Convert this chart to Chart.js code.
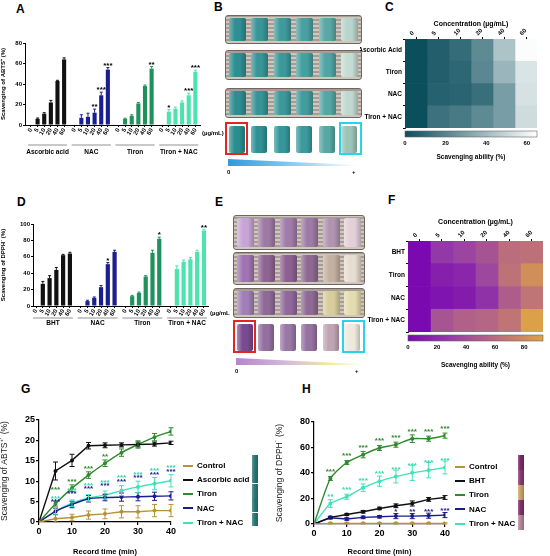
<!DOCTYPE html>
<html>
<head>
<meta charset="utf-8">
<title>ABTS / DPPH scavenging</title>
<script src="https://cdn.jsdelivr.net/npm/chart.js@4.4.1/dist/chart.umd.min.js"></script>
<style>
  body { margin: 0; width: 550px; height: 556px; position: relative; overflow: hidden; background: #fff; font-family: 'Liberation Sans', Arial, sans-serif; }
  .abs { position: absolute; }
  .letter { position: absolute; font-size: 12px; line-height: 12px; font-weight: bold; }
  .legend { position: absolute; font-size: 8px; font-weight: bold; }
  .legend div { position: absolute; white-space: nowrap; line-height: 10px; }
  .legend span { display: inline-block; width: 10px; height: 2px; vertical-align: middle; margin-right: 4px; }
  .small { position: absolute; font-size: 6px; font-weight: bold; line-height: 6px; }
</style>
</head>
<body>
<div class="letter" style="left:16px;top:3px">A</div>
<div class="letter" style="left:214px;top:1px">B</div>
<div class="letter" style="left:385px;top:1px">C</div>
<div class="letter" style="left:17px;top:196px">D</div>
<div class="letter" style="left:215px;top:196px">E</div>
<div class="letter" style="left:388px;top:194px">F</div>
<div class="letter" style="left:21px;top:383px">G</div>
<div class="letter" style="left:302px;top:383px">H</div>

<canvas id="barA" class="abs" width="228" height="140" style="left:0;top:20px"></canvas>
<canvas id="barD" class="abs" width="230" height="140" style="left:0;top:200px"></canvas>
<canvas id="heatC" class="abs" width="190" height="150" style="left:360px;top:12px"></canvas>
<canvas id="heatF" class="abs" width="190" height="160" style="left:360px;top:210px"></canvas>
<canvas id="lineG" class="abs" width="275" height="158" style="left:0;top:398px"></canvas>
<canvas id="lineH" class="abs" width="275" height="158" style="left:275px;top:398px"></canvas>

<script>
// ---- data: concentration bars (A, D) ----
const concLabels = ['0', '5', '10', '20', '40', '60'];

const abtsGroups = ['Ascorbic acid', 'NAC', 'Tiron', 'Tiron + NAC'];
const abtsAscorbic = [0, 6, 11, 22, 43, 64];
const abtsNac = [0, 7, 8, 12, 29, 54];
const abtsTiron = [0, 6, 9, 21, 38, 55];
const abtsTironNac = [0, 13, 16, 22, 29, 52];
const abtsAscorbicErr = [0, 0.8, 1, 2, 0.6, 1.5];
const abtsNacErr = [0, 3, 3.5, 3.5, 3, 2];
const abtsTironErr = [0, 0.6, 1, 1, 1, 2];
const abtsTironNacErr = [0, 2, 1.5, 1.5, 2, 1.5];
const abtsAscorbicStars = ['', '', '', '', '', ''];
const abtsNacStars = ['', '', '', '**', '***', '***'];
const abtsTironStars = ['', '', '', '', '', '**'];
const abtsTironNacStars = ['', '*', '', '', '***', '***'];

const dpphGroups = ['BHT', 'NAC', 'Tiron', 'Tiron + NAC'];
const dpphBht = [0, 27, 34, 44, 62, 64];
const dpphNac = [0, 6, 10, 23, 51, 66];
const dpphTiron = [0, 12, 16, 36, 65, 82];
const dpphTironNac = [0, 45, 54, 57, 66, 92];
const dpphBhtErr = [0, 3, 3, 3, 1, 1.5];
const dpphNacErr = [0, 1, 1, 2, 2, 2];
const dpphTironErr = [0, 1, 1, 1, 3, 2];
const dpphTironNacErr = [0, 4, 2, 2, 2, 1.5];
const dpphBhtStars = ['', '', '', '', '', ''];
const dpphNacStars = ['', '', '', '', '*', ''];
const dpphTironStars = ['', '', '', '', '', '*'];
const dpphTironNacStars = ['', '', '', '', '', '**'];

// ---- data: heatmaps (C, F) ----
const heatRowsC = ['Ascorbic Acid', 'Tiron', 'NAC', 'Tiron + NAC'];
const heatRowsF = ['BHT', 'Tiron', 'NAC', 'Tiron + NAC'];
const colorBarTicks = [0, 20, 40, 60, 80];

// ---- data: kinetics (G, H) ----
const timePoints = [0, 5, 10, 15, 20, 25, 30, 35, 40];
const abtsControlTime = [0, 0.8, 1.1, 1.7, 2.0, 2.5, 2.5, 2.8, 2.8];
const abtsAscorbicTime = [0, 12.5, 15.1, 18.7, 18.8, 18.9, 19.0, 19.1, 19.4];
const abtsTironTime = [0, 4.5, 8.3, 11.5, 14.4, 17.0, 19.0, 20.8, 22.2];
const abtsNacTime = [0, 2.6, 4.3, 5.7, 6.0, 6.1, 6.2, 6.3, 6.4];
const abtsTironNacTime = [0, 2.7, 4.6, 5.9, 6.6, 7.7, 8.6, 9.4, 10.1];
const abtsControlTimeErr = [0, 1, 0.8, 1, 1.2, 1.5, 1.5, 1.5, 1.5];
const abtsAscorbicTimeErr = [0, 2.2, 1.5, 0.8, 0.6, 0.5, 0.6, 0.5, 0.4];
const abtsTironTimeErr = [0, 0.6, 0.8, 0.8, 0.8, 0.9, 0.9, 0.9, 0.9];
const abtsNacTimeErr = [0, 0.8, 0.8, 0.8, 0.8, 1, 1, 1, 1];
const abtsTironNacTimeErr = [0, 0.8, 0.8, 0.8, 1, 1.2, 1.4, 1.5, 1.5];
const abtsTironTimeStars = ['', '***', '***', '***', '**', '', '', '', ''];
const abtsTironNacTimeStars = ['', '***', '***', '***', '***', '***', '***', '***', '***'];
const abtsNacTimeStars = ['', '***', '***', '***', '***', '***', '***', '***', '***'];

const dpphControlTime = [0, 0.5, 0.5, 0.5, 0.5, 0.5, 0.5, 0.5, 0.5];
const dpphBhtTime = [0, 5.2, 7.5, 9.6, 12.2, 14.3, 16.1, 19.3, 20.8];
const dpphTironTime = [0, 35.7, 48.2, 54.4, 59.6, 62.2, 66.9, 66.9, 69.3];
const dpphNacTime = [0, 4.9, 3.9, 5.2, 5.7, 6.2, 6.2, 6.5, 7.0];
const dpphTironNacTime = [0, 16.1, 21.4, 28.4, 33.6, 37.2, 40.1, 42.2, 44.3];
const dpphControlTimeErr = [0, 0.5, 0.5, 0.5, 0.5, 0.5, 0.5, 0.5, 0.5];
const dpphBhtTimeErr = [0, 0.8, 0.8, 1, 1, 1.5, 2, 1.5, 1.5];
const dpphTironTimeErr = [0, 1.5, 1.5, 2.5, 2, 2, 3, 2, 2];
const dpphNacTimeErr = [0, 1, 1, 1, 1, 2, 2, 2, 2];
const dpphTironNacTimeErr = [0, 3, 2, 3, 4, 5, 6, 6, 5];
const dpphTironTimeStars = ['', '***', '***', '***', '***', '***', '***', '***', '***'];
const dpphTironNacTimeStars = ['', '**', '***', '***', '***', '***', '***', '***', '***'];
const dpphNacTimeStars = ['', '', '', '', '', '*', '**', '***', '***'];

// colours
const groupColors = ['#111111', '#1a1f8f', '#1f915c', '#4de3ae'];
const lineColors = { control: '#b8923a', black: '#111111', tiron: '#2e8a2c', nac: '#1c1c8c', tironNac: '#3fe3b8' };

Chart.defaults.font.family = "'Liberation Sans', Arial, sans-serif";
Chart.defaults.color = '#000';
Chart.defaults.animation = false;
Chart.defaults.plugins.legend.display = false;
Chart.defaults.plugins.tooltip.enabled = false;

// error bars for bars (up only) and lines (both ways)
const errorBars = {
    id: 'errorBars',
    afterDatasetsDraw(chart) {
        const ctx = chart.ctx;
        const y = chart.scales.y;
        chart.data.datasets.forEach((ds, di) => {
            if (!ds.errors) return;
            const meta = chart.getDatasetMeta(di);
            ctx.save();
            ctx.lineWidth = 1;
            meta.data.forEach((el, j) => {
                const e = ds.errors[j];
                if (!e) return;
                const v = ds.data[j].y;
                ctx.strokeStyle = Array.isArray(ds.backgroundColor) ? ds.backgroundColor[j] : ds.borderColor;
                const top = y.getPixelForValue(v + e);
                const bot = ds.errorBoth ? y.getPixelForValue(Math.max(0, v - e)) : y.getPixelForValue(v);
                const cap = ds.errorBoth ? 2.5 : 1.5;
                ctx.beginPath();
                ctx.moveTo(el.x, top); ctx.lineTo(el.x, bot);
                ctx.moveTo(el.x - cap, top); ctx.lineTo(el.x + cap, top);
                if (ds.errorBoth) { ctx.moveTo(el.x - cap, bot); ctx.lineTo(el.x + cap, bot); }
                ctx.stroke();
            });
            ctx.restore();
        });
    }
};

// asterisks above bars + group underlines
const barDecor = {
    id: 'barDecor',
    afterDraw(chart, args, opts) {
        const ctx = chart.ctx;
        const x = chart.scales.x, y = chart.scales.y;
        const area = chart.chartArea;
        const ds = chart.data.datasets[0];
        const meta = chart.getDatasetMeta(0);
        ctx.save();
        ctx.font = "bold 8px 'Liberation Sans', Arial, sans-serif";
        ctx.textAlign = 'center';
        ctx.textBaseline = 'middle';
        ctx.fillStyle = '#000';
        meta.data.forEach((el, j) => {
            if (!ds.stars[j]) return;
            ctx.fillText(ds.stars[j], el.x, y.getPixelForValue(ds.data[j].y + ds.errors[j]) - 2);
        });
        ctx.strokeStyle = '#777';
        ctx.lineWidth = 0.8;
        ctx.font = "bold 6.5px 'Liberation Sans', Arial, sans-serif";
        opts.groups.forEach((g, gi) => {
            const x1 = x.getPixelForValue(gi * opts.stride) - 3;
            const x2 = x.getPixelForValue(gi * opts.stride + 5) + 3;
            ctx.beginPath();
            ctx.moveTo(x1, area.bottom + opts.lineOff);
            ctx.lineTo(x2, area.bottom + opts.lineOff);
            ctx.stroke();
            ctx.fillText(g, (x1 + x2) / 2, area.bottom + opts.nameOff);
        });
        ctx.textAlign = 'left';
        ctx.font = "bold 6px 'Liberation Sans', Arial, sans-serif";
        ctx.fillText('(\u00b5g/mL)', area.right + 2, area.bottom + opts.unitOff);
        ctx.restore();
    }
};

function barPanel(id, groups, values, errs, stars, opts) {
    const stride = 6.6;
    const data = [], colors = [], errors = [], starList = [];
    groups.forEach((g, gi) => {
        values[gi].forEach((v, i) => {
            data.push({ x: gi * stride + i, y: v });
            colors.push(groupColors[gi]);
            errors.push(errs[gi][i]);
            starList.push(stars[gi][i]);
        });
    });
    const tickFont = { size: 6, weight: 'bold' };
    return new Chart(document.getElementById(id), {
        type: 'bar',
        data: {
            datasets: [{
                data: data,
                backgroundColor: colors,
                errors: errors,
                stars: starList,
                barPercentage: 0.62,
                categoryPercentage: 1
            }]
        },
        options: {
            responsive: false,
            layout: { padding: { top: opts.padTop, right: opts.padRight, bottom: opts.padBottom, left: 0 } },
            plugins: { barDecor: { groups: groups, stride: stride, lineOff: opts.lineOff, nameOff: opts.nameOff, unitOff: opts.unitOff } },
            scales: {
                x: {
                    type: 'linear',
                    offset: false,
                    min: -opts.lead,
                    max: 3 * stride + 5 + opts.trail,
                    afterBuildTicks: (scale) => { scale.ticks = data.map(d => ({ value: d.x })); },
                    ticks: { autoSkip: false, minRotation: 60, maxRotation: 60, padding: 0, font: tickFont, callback: (v, i) => concLabels[i % 6] },
                    grid: { offset: false, drawOnChartArea: false, tickLength: 2, color: '#000' },
                    border: { color: '#000' },
                    afterFit: (scale) => { scale.height = opts.xh; }
                },
                y: {
                    min: 0,
                    max: opts.ymax,
                    ticks: { stepSize: 20, padding: 1, font: tickFont },
                    grid: { drawOnChartArea: false, tickLength: 2, color: '#000' },
                    border: { color: '#000' },
                    title: { display: true, text: opts.title, font: { size: 6, weight: 'bold' }, padding: { top: 0, bottom: 1 } },
                    afterFit: (scale) => { scale.width = opts.yw; }
                }
            }
        },
        plugins: [errorBars, barDecor]
    });
}

barPanel('barA', abtsGroups,
    [abtsAscorbic, abtsNac, abtsTiron, abtsTironNac],
    [abtsAscorbicErr, abtsNacErr, abtsTironErr, abtsTironNacErr],
    [abtsAscorbicStars, abtsNacStars, abtsTironStars, abtsTironNacStars],
    { title: 'Scavenging of ABTS\u207a (%)', ymax: 80, padTop: 23, padRight: 28, padBottom: 15, xh: 20, yw: 25,
      lead: 0.9, trail: 0.7, lineOff: 20, nameOff: 27, unitOff: 8 });

barPanel('barD', dpphGroups,
    [dpphBht, dpphNac, dpphTiron, dpphTironNac],
    [dpphBhtErr, dpphNacErr, dpphTironErr, dpphTironNacErr],
    [dpphBhtStars, dpphNacStars, dpphTironStars, dpphTironNacStars],
    { title: 'Scavenging of DPPH\u02d9 (%)', ymax: 100, padTop: 24, padRight: 22, padBottom: 22, xh: 12, yw: 33,
      lead: 0.45, trail: 0.6, lineOff: 12, nameOff: 17, unitOff: 7 });

// ---- heatmaps ----
function hexRgb(h) {
    return [1, 3, 5].map(i => parseInt(h.slice(i, i + 2), 16));
}
function rampColor(stops, v) {
    for (let i = 1; i < stops.length; i++) {
        if (v <= stops[i][0] || i === stops.length - 1) {
            const a = hexRgb(stops[i - 1][1]), b = hexRgb(stops[i][1]);
            const t = Math.max(0, Math.min(1, (v - stops[i - 1][0]) / (stops[i][0] - stops[i - 1][0])));
            return 'rgb(' + a.map((c, k) => Math.round(c + (b[k] - c) * t)).join(',') + ')';
        }
    }
}

const colorBar = {
    id: 'colorBar',
    afterDraw(chart, args, opts) {
        const ctx = chart.ctx, area = chart.chartArea;
        const top = area.bottom + 3, h = 6;
        const grad = ctx.createLinearGradient(area.left, 0, area.right, 0);
        for (let k = 0; k <= 20; k++) grad.addColorStop(k / 20, rampColor(opts.stops, opts.vmax * k / 20));
        ctx.save();
        ctx.fillStyle = grad;
        ctx.fillRect(area.left, top, area.right - area.left, h);
        ctx.strokeStyle = '#666';
        ctx.lineWidth = 0.6;
        ctx.strokeRect(area.left, top, area.right - area.left, h);
        ctx.restore();
    }
};

function heatPanel(id, rowNames, rows, stops, vmax, opts) {
    const datasets = concLabels.map((c, ci) => ({
        data: rows.map(() => 1),
        backgroundColor: rows.map(r => rampColor(stops, r[ci])),
        barPercentage: 1,
        categoryPercentage: 1,
        borderWidth: 0,
        xAxisID: 'x',
        yAxisID: 'y'
    }));
    const small = { size: 6, weight: 'bold' };
    return new Chart(document.getElementById(id), {
        type: 'bar',
        data: { labels: rowNames, datasets: datasets },
        options: {
            responsive: false,
            indexAxis: 'y',
            layout: { padding: { top: 0, right: opts.padRight, bottom: 0, left: 0 } },
            plugins: { colorBar: { stops: stops, vmax: vmax } },
            scales: {
                x: {
                    type: 'linear', position: 'top', stacked: true, min: 0, max: 6,
                    afterBuildTicks: (scale) => { scale.ticks = concLabels.map((c, i) => ({ value: i + 0.5 })); },
                    ticks: { autoSkip: false, minRotation: 45, maxRotation: 45, padding: 0, font: small, callback: (v, i) => concLabels[i] },
                    grid: { drawOnChartArea: false, tickLength: 2, color: '#000' },
                    border: { display: false },
                    title: { display: true, text: 'Concentration (\u00b5g/mL)', font: { size: 7, weight: 'bold' }, padding: { top: 8, bottom: 0 } },
                    afterFit: (scale) => { scale.height = opts.topH; }
                },
                cb: {
                    type: 'linear', position: 'bottom', min: 0, max: vmax,
                    afterBuildTicks: (scale) => { scale.ticks = colorBarTicks.filter(t => t <= vmax).map(t => ({ value: t })); },
                    ticks: { autoSkip: false, padding: 12, font: small },
                    grid: { display: false, drawTicks: false },
                    border: { display: false },
                    title: { display: true, text: 'Scavenging ability (%)', font: { size: 6.5, weight: 'bold' }, padding: { top: 1, bottom: 1 } },
                    afterFit: (scale) => { scale.height = opts.botH; }
                },
                y: {
                    type: 'category', stacked: true,
                    ticks: { padding: 1, font: { size: 6.5, weight: 'bold' } },
                    grid: { drawOnChartArea: false, tickLength: 2, color: '#000' },
                    border: { color: '#333' },
                    afterFit: (scale) => { scale.width = opts.yw; }
                }
            }
        },
        plugins: [colorBar]
    });
}

heatPanel('heatC', heatRowsC, [abtsAscorbic, abtsTiron, abtsNac, abtsTironNac],
    [[0, '#0b4e5c'], [65, '#ffffff']], 65, { padRight: 13, topH: 27, botH: 34, yw: 45 });
heatPanel('heatF', heatRowsF, [dpphBht, dpphTiron, dpphNac, dpphTironNac],
    [[0, '#7a0ab0'], [30, '#963ea6'], [60, '#b86a80'], [93, '#dca246']], 93, { padRight: 7, topH: 31, botH: 38, yw: 48 });

// ---- kinetics ----
const lineStars = {
    id: 'lineStars',
    afterDatasetsDraw(chart, args, opts) {
        const ctx = chart.ctx, x = chart.scales.x, y = chart.scales.y;
        ctx.save();
        ctx.font = "bold 8px 'Liberation Sans', Arial, sans-serif";
        ctx.textAlign = 'center';
        ctx.textBaseline = 'middle';
        opts.rows.forEach(row => {
            ctx.fillStyle = row.color;
            row.stars.forEach((s, j) => {
                if (!s) return;
                const py = Math.min(...row.anchors.map(([di, off]) =>
                    y.getPixelForValue(chart.data.datasets[di].data[j].y) - off));
                ctx.fillText(s, x.getPixelForValue(timePoints[j]), py);
            });
        });
        ctx.restore();
    }
};

function linePanel(id, series, starRows, opts) {
    const tickFont = { size: 9, weight: 'bold' };
    return new Chart(document.getElementById(id), {
        type: 'line',
        data: {
            datasets: series.map(s => ({
                label: s.label,
                data: timePoints.map((t, j) => ({ x: t, y: s.values[j] })),
                errors: s.errs,
                errorBoth: true,
                borderColor: s.color,
                backgroundColor: s.color,
                borderWidth: 1.4,
                pointRadius: 1.3,
                tension: s.tension || 0
            }))
        },
        options: {
            responsive: false,
            layout: { padding: { top: opts.padTop, right: opts.padRight, bottom: 0, left: 0 } },
            plugins: { lineStars: { rows: starRows } },
            scales: {
                x: {
                    type: 'linear', min: 0, max: 40,
                    ticks: { stepSize: 10, maxRotation: 0, padding: 1, font: tickFont },
                    grid: { drawOnChartArea: false, tickLength: 3, color: '#000', lineWidth: 1.2 },
                    border: { color: '#000', width: 1.2 },
                    title: { display: true, text: 'Record time (min)', font: { size: 7.5, weight: 'bold' }, padding: { top: 2, bottom: 0 } },
                    afterFit: (scale) => { scale.height = opts.xh; }
                },
                y: {
                    min: 0, max: opts.ymax,
                    ticks: { stepSize: opts.step, padding: 1, font: tickFont },
                    grid: { drawOnChartArea: false, tickLength: 3, color: '#000', lineWidth: 1.2 },
                    border: { color: '#000', width: 1.2 },
                    title: { display: true, text: opts.title, color: '#222', font: { size: 8.5 }, padding: { top: 0, bottom: 2 } },
                    afterFit: (scale) => { scale.width = opts.yw; }
                }
            }
        },
        plugins: [errorBars, lineStars]
    });
}

const seriesG = [
    { label: 'Control', values: abtsControlTime, errs: abtsControlTimeErr, color: lineColors.control },
    { label: 'Ascorbic acid', values: abtsAscorbicTime, errs: abtsAscorbicTimeErr, color: lineColors.black },
    { label: 'Tiron', values: abtsTironTime, errs: abtsTironTimeErr, color: lineColors.tiron, tension: 0.3 },
    { label: 'NAC', values: abtsNacTime, errs: abtsNacTimeErr, color: lineColors.nac, tension: 0.2 },
    { label: 'Tiron + NAC', values: abtsTironNacTime, errs: abtsTironNacTimeErr, color: lineColors.tironNac, tension: 0.2 }
];
linePanel('lineG', seriesG, [
    { stars: abtsTironTimeStars, color: lineColors.tiron, anchors: [[2, 6], [4, 21]] },
    { stars: abtsTironNacTimeStars, color: '#36d6ad', anchors: [[4, 12.5]] },
    { stars: abtsNacTimeStars, color: lineColors.nac, anchors: [[4, 9]] }
], { title: 'Scavenging of ABTS\u207a\u02d9 (%)', ymax: 25, step: 5, padTop: 22, padRight: 104, xh: 34, yw: 39 });

const seriesH = [
    { label: 'Control', values: dpphControlTime, errs: dpphControlTimeErr, color: lineColors.control },
    { label: 'BHT', values: dpphBhtTime, errs: dpphBhtTimeErr, color: lineColors.black },
    { label: 'Tiron', values: dpphTironTime, errs: dpphTironTimeErr, color: lineColors.tiron, tension: 0.2 },
    { label: 'NAC', values: dpphNacTime, errs: dpphNacTimeErr, color: lineColors.nac },
    { label: 'Tiron + NAC', values: dpphTironNacTime, errs: dpphTironNacTimeErr, color: lineColors.tironNac, tension: 0.2 }
];
linePanel('lineH', seriesH, [
    { stars: dpphTironTimeStars, color: lineColors.tiron, anchors: [[2, 7]] },
    { stars: dpphTironNacTimeStars, color: '#36d6ad', anchors: [[4, 7]] },
    { stars: dpphNacTimeStars, color: lineColors.nac, anchors: [[3, 4]] }
], { title: 'Scavenging of DPPH\u02d9 (%)', ymax: 80, step: 20, padTop: 24, padRight: 105, xh: 32, yw: 39 });

// HTML legends next to G and H
function buildLegend(left, top, series) {
    const box = document.createElement('div');
    box.className = 'legend';
    box.style.left = left + 'px';
    box.style.top = top + 'px';
    series.forEach((s, i) => {
        const row = document.createElement('div');
        row.style.top = (i * 14.2) + 'px';
        row.innerHTML = '<span style="background:' + s.color + '"></span>' + s.label;
        box.appendChild(row);
    });
    document.body.appendChild(box);
}
buildLegend(183, 461, seriesG);
buildLegend(455, 462, seriesH);

function buildStrip(left, top, h, colors) {
    colors.forEach((c, i) => {
        const d = document.createElement('div');
        d.className = 'abs';
        d.style.cssText = 'left:' + left + 'px;top:' + (top + i * h / colors.length) + 'px;width:6px;height:' +
            (h / colors.length - 0.5) + 'px;background:linear-gradient(to right,rgba(255,255,255,.25),rgba(0,0,0,0) 40%,rgba(0,0,0,.2)),' + c;
        document.body.appendChild(d);
    });
}
buildStrip(252, 455, 72, ['#2c7a78', '#2a7674', '#2d7b79', '#2a7775', '#2c7977']);
buildStrip(518, 455, 75, ['#7a2a6a', '#8a3a72', '#c8a464', '#803070', '#b48698']);

// ---- photo panels B and E (schematic racks of vials) ----
function vial(parent, x, y, w, h, color) {
    const v = document.createElement('div');
    v.className = 'abs';
    v.style.cssText = 'left:' + x + 'px;top:' + y + 'px;width:' + w + 'px;height:' + h + 'px;border-radius:2px;' +
        'background:linear-gradient(to right,rgba(255,255,255,.35),rgba(255,255,255,0) 35%,rgba(0,0,0,0) 65%,rgba(0,0,0,.22)),' + color;
    parent.appendChild(v);
}
function buildPhoto(cfg) {
    const root = document.createElement('div');
    root.className = 'abs';
    root.style.cssText = 'left:' + cfg.left + 'px;top:' + cfg.top + 'px;width:' + cfg.width + 'px;height:' + cfg.height + 'px;';
    const step = (cfg.width - 8 - 17) / 5;
    cfg.rows.forEach(r => {
        const rack = document.createElement('div');
        rack.className = 'abs';
        rack.style.cssText = 'left:0;top:' + r.y + 'px;width:' + (cfg.width - 2) + 'px;height:' + (r.h - 2) + 'px;border:1px solid #6f6660;border-radius:3px;' +
            'background:repeating-linear-gradient(0deg,#cfc6bd 0 2px,#a89d94 2px 4px);';
        root.appendChild(rack);
        r.colors.forEach((c, k) => vial(rack, 3 + k * step, 2, 17, r.h - 6, c));
    });
    const lr = cfg.loose;
    lr.colors.forEach((c, k) => vial(root, 4 + k * step, lr.y + 4, 16, lr.h - 6, c));
    [[0, '#e52521'], [cfg.width - 23, '#2bd3ea']].forEach(([bx, bc]) => {
        const b = document.createElement('div');
        b.className = 'abs';
        b.style.cssText = 'left:' + bx + 'px;top:' + lr.y + 'px;width:19px;height:' + (lr.h - 4) + 'px;border:2px solid ' + bc + ';';
        root.appendChild(b);
    });
    const tri = document.createElement('div');
    tri.className = 'abs';
    tri.style.cssText = 'left:3px;top:' + cfg.triY + 'px;width:' + (cfg.width - 8) + 'px;height:7px;background:' + cfg.triBg +
        ';clip-path:polygon(0 0,100% 85%,100% 100%,0 100%);';
    root.appendChild(tri);
    const z = document.createElement('div');
    z.className = 'small';
    z.style.cssText += 'left:2px;top:' + (cfg.triY + 10) + 'px;';
    z.textContent = '0';
    root.appendChild(z);
    const p = document.createElement('div');
    p.className = 'small';
    p.style.cssText += 'left:' + (cfg.width - 10) + 'px;top:' + (cfg.triY + 10) + 'px;';
    p.textContent = '+';
    root.appendChild(p);
    document.body.appendChild(root);
}

buildPhoto({
    left: 225, top: 14, width: 137, height: 160,
    rows: [
        { y: 1, h: 29, colors: ['#2f8f92', '#3a9598', '#3f9a9c', '#4aa0a0', '#5aa8a6', '#b8d4cc'] },
        { y: 36, h: 30, colors: ['#2f8e91', '#379497', '#3d989a', '#45a0a0', '#4fa5a4', '#c5dcd5'] },
        { y: 74, h: 30, colors: ['#2f8d90', '#369396', '#3c989a', '#429c9c', '#55a7a4', '#c0d8d0'] }
    ],
    loose: { y: 108, h: 33, colors: ['#2a8d90', '#2f9194', '#36979a', '#3c9a9c', '#57a7a4', '#9cc4b8'] },
    triY: 145,
    triBg: 'linear-gradient(to right,#2b9be0,#9fd3f5 60%,#ffffff)'
});

buildPhoto({
    left: 233, top: 215, width: 132, height: 160,
    rows: [
        { y: 0, h: 35, colors: ['#c7a4d6', '#9d7aa4', '#a07ca8', '#9d7ba6', '#b094b0', '#e2cfd8'] },
        { y: 37, h: 33, colors: ['#a074b0', '#8e6492', '#8c6090', '#8e6a92', '#c4b0a0', '#e6dcd0'] },
        { y: 73, h: 30, colors: ['#a27eb6', '#8f6a96', '#90689a', '#8e6a94', '#d8cc9c', '#e4dcb0'] }
    ],
    loose: { y: 105, h: 33, colors: ['#7a4a90', '#9470a0', '#9a78a6', '#9672a0', '#c0a4b4', '#efe9dc'] },
    triY: 143,
    triBg: 'linear-gradient(to right,#b585cf,#d8c0d8 45%,#f2ea9a 75%,#fffbe0)'
});
</script>
</body>
</html>
